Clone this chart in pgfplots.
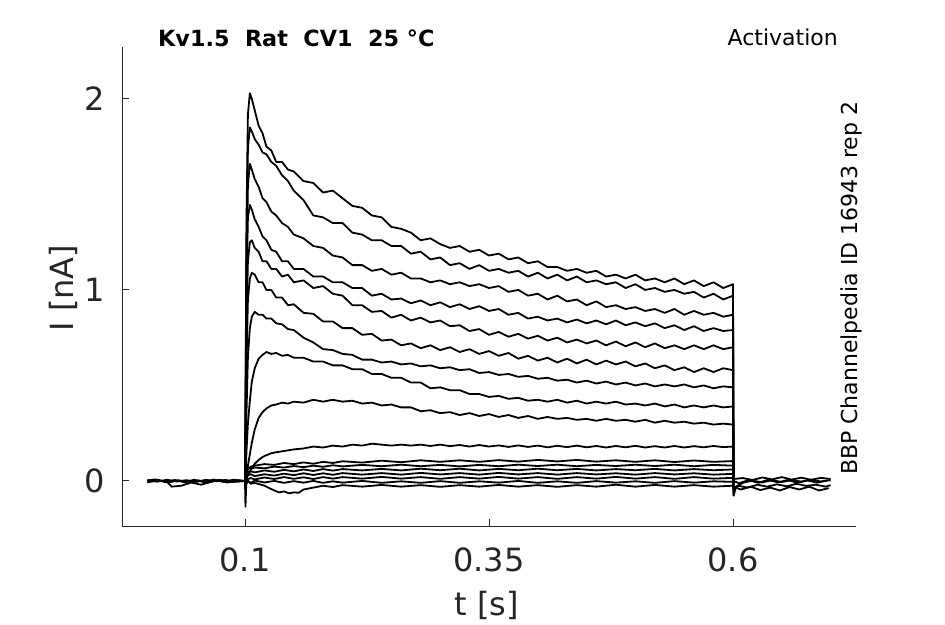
\documentclass[border=0pt]{standalone}
\usepackage{fontspec}
\setmainfont{DejaVu Sans}
\usepackage{pgfplots}
\pgfplotsset{compat=1.18}
\definecolor{axgray}{RGB}{38,38,38}
\begin{document}
\begin{tikzpicture}
\useasboundingbox (0,0) rectangle (945pt,624pt);
\begin{axis}[
  at={(122pt,98pt)}, anchor=south west,
  width=734pt, height=479pt, scale only axis,
  xmin=-0.026, xmax=0.726, ymin=-0.236, ymax=2.272,
  axis x line*=bottom, axis y line*=left,
  axis line style={draw=axgray, line width=0.9pt},
  xtick={0.1,0.35,0.6}, xticklabels={0.1,0.35,0.6},
  ytick={0,1,2}, yticklabels={0,1,2},
  tick align=inside, major tick length=7pt,
  tick style={draw=axgray, line width=0.9pt},
  /pgf/number format/assume math mode=true,
  xticklabel style={font=\fontsize{32}{38}\selectfont, text=axgray, inner sep=0pt, anchor=north, yshift=-22pt},
  yticklabel style={font=\fontsize{32}{38}\selectfont, text=axgray, inner sep=0pt, anchor=east, xshift=-17pt},
  every axis plot post/.append style={black, solid, line width=1.8pt, line join=round, mark=none},
]
% pre-pulse baselines
\addplot coordinates {(0,0.005)(0.01,-0.004)(0.02,0.006)(0.03,-0.003)(0.04,0.004)(0.05,-0.005)(0.06,0.006)(0.07,-0.002)(0.08,0.005)(0.09,-0.004)(0.1,0)};
\addplot coordinates {(0,-0.004)(0.01,0.006)(0.02,-0.005)(0.025,-0.03)(0.035,-0.025)(0.045,-0.008)(0.055,-0.02)(0.065,-0.004)(0.075,0.005)(0.085,-0.006)(0.1,0)};
\addplot coordinates {(0,0.002)(0.008,0.008)(0.018,-0.006)(0.028,0.005)(0.038,-0.007)(0.048,0.006)(0.058,-0.006)(0.068,0.007)(0.078,-0.005)(0.088,0.006)(0.1,0)};
\addplot coordinates {(0,-0.007)(0.012,0.003)(0.022,-0.008)(0.032,0.004)(0.042,-0.012)(0.052,0.003)(0.062,-0.009)(0.072,0.004)(0.082,-0.008)(0.092,0.004)(0.1,0)};
% T1
\addplot coordinates {(0.1,0)(0.1005,0.35)(0.1015,1.35)(0.103,1.92)(0.105,2.03)(0.107,2.00)(0.11,1.94)(0.114,1.86)(0.118,1.82)(0.122,1.75)(0.127,1.73)(0.132,1.67)(0.138,1.67)(0.144,1.63)(0.15,1.62)(0.16,1.57)(0.17,1.56)(0.18,1.51)(0.19,1.52)(0.20,1.48)(0.21,1.44)(0.22,1.43)(0.23,1.39)(0.24,1.38)(0.25,1.33)(0.26,1.32)(0.27,1.30)(0.28,1.26)(0.29,1.27)(0.30,1.24)(0.31,1.22)(0.32,1.23)(0.33,1.20)(0.34,1.21)(0.35,1.18)(0.36,1.19)(0.37,1.16)(0.38,1.17)(0.39,1.14)(0.40,1.15)(0.41,1.12)(0.42,1.12)(0.43,1.10)(0.44,1.11)(0.45,1.09)(0.46,1.10)(0.47,1.07)(0.48,1.08)(0.49,1.06)(0.50,1.08)(0.51,1.05)(0.52,1.06)(0.53,1.04)(0.54,1.06)(0.55,1.03)(0.56,1.05)(0.57,1.02)(0.58,1.04)(0.59,1.01)(0.60,1.03)(0.6005,-0.02)};
% T2
\addplot coordinates {(0.1,0)(0.1005,0.3)(0.1015,1.2)(0.103,1.74)(0.105,1.85)(0.107,1.83)(0.11,1.79)(0.114,1.76)(0.118,1.72)(0.122,1.71)(0.127,1.67)(0.132,1.65)(0.138,1.60)(0.144,1.57)(0.15,1.52)(0.16,1.47)(0.17,1.39)(0.18,1.38)(0.19,1.35)(0.20,1.35)(0.21,1.30)(0.22,1.29)(0.23,1.26)(0.24,1.26)(0.25,1.23)(0.26,1.23)(0.27,1.19)(0.28,1.20)(0.29,1.16)(0.30,1.17)(0.31,1.13)(0.32,1.14)(0.33,1.11)(0.34,1.13)(0.35,1.10)(0.36,1.11)(0.37,1.09)(0.38,1.10)(0.39,1.07)(0.40,1.09)(0.41,1.06)(0.42,1.08)(0.43,1.05)(0.44,1.07)(0.45,1.04)(0.46,1.05)(0.47,1.03)(0.48,1.04)(0.49,1.01)(0.50,1.03)(0.51,1.00)(0.52,1.01)(0.53,0.99)(0.54,1.00)(0.55,0.98)(0.56,0.99)(0.57,0.96)(0.58,0.98)(0.59,0.95)(0.60,0.97)(0.6005,-0.03)};
% T3
\addplot coordinates {(0.1,0)(0.1005,0.25)(0.1015,1.05)(0.103,1.55)(0.105,1.66)(0.107,1.63)(0.11,1.58)(0.114,1.54)(0.118,1.48)(0.122,1.46)(0.127,1.41)(0.132,1.39)(0.138,1.35)(0.144,1.33)(0.15,1.29)(0.16,1.27)(0.17,1.23)(0.18,1.22)(0.19,1.18)(0.20,1.17)(0.21,1.13)(0.22,1.13)(0.23,1.10)(0.24,1.11)(0.25,1.08)(0.26,1.09)(0.27,1.06)(0.28,1.06)(0.29,1.04)(0.30,1.05)(0.31,1.03)(0.32,1.04)(0.33,1.02)(0.34,1.03)(0.35,1.01)(0.36,1.02)(0.37,0.99)(0.38,1.00)(0.39,0.97)(0.40,0.98)(0.41,0.95)(0.42,0.97)(0.43,0.94)(0.44,0.95)(0.45,0.92)(0.46,0.94)(0.47,0.91)(0.48,0.92)(0.49,0.90)(0.50,0.91)(0.51,0.89)(0.52,0.90)(0.53,0.88)(0.54,0.90)(0.55,0.87)(0.56,0.89)(0.57,0.87)(0.58,0.88)(0.59,0.86)(0.60,0.87)(0.6005,-0.01)};
% T4
\addplot coordinates {(0.1,0)(0.1005,0.2)(0.1015,1.0)(0.103,1.38)(0.105,1.445)(0.107,1.42)(0.11,1.37)(0.114,1.33)(0.118,1.28)(0.122,1.26)(0.127,1.21)(0.132,1.20)(0.138,1.15)(0.144,1.15)(0.15,1.11)(0.16,1.11)(0.17,1.07)(0.18,1.07)(0.19,1.04)(0.20,1.04)(0.21,1.01)(0.22,1.01)(0.23,0.97)(0.24,0.98)(0.25,0.95)(0.26,0.955)(0.27,0.93)(0.28,0.945)(0.29,0.92)(0.30,0.935)(0.31,0.91)(0.32,0.925)(0.33,0.90)(0.34,0.915)(0.35,0.89)(0.36,0.90)(0.37,0.87)(0.38,0.88)(0.39,0.85)(0.40,0.86)(0.41,0.84)(0.42,0.85)(0.43,0.83)(0.44,0.845)(0.45,0.825)(0.46,0.84)(0.47,0.82)(0.48,0.84)(0.49,0.815)(0.50,0.83)(0.51,0.81)(0.52,0.825)(0.53,0.80)(0.54,0.815)(0.55,0.79)(0.56,0.81)(0.57,0.785)(0.58,0.80)(0.59,0.785)(0.60,0.79)(0.6005,-0.04)};
% T5
\addplot coordinates {(0.1,0)(0.1005,0.15)(0.1015,0.8)(0.103,1.15)(0.105,1.25)(0.107,1.26)(0.11,1.22)(0.114,1.20)(0.118,1.15)(0.122,1.15)(0.127,1.11)(0.132,1.11)(0.138,1.07)(0.144,1.08)(0.15,1.04)(0.16,1.05)(0.17,1.01)(0.18,1.02)(0.19,0.98)(0.20,0.97)(0.21,0.92)(0.22,0.92)(0.23,0.885)(0.24,0.89)(0.25,0.855)(0.26,0.87)(0.27,0.84)(0.28,0.855)(0.29,0.83)(0.30,0.84)(0.31,0.81)(0.32,0.815)(0.33,0.785)(0.34,0.795)(0.35,0.765)(0.36,0.78)(0.37,0.755)(0.38,0.77)(0.39,0.745)(0.40,0.76)(0.41,0.735)(0.42,0.75)(0.43,0.725)(0.44,0.74)(0.45,0.72)(0.46,0.735)(0.47,0.71)(0.48,0.73)(0.49,0.705)(0.50,0.725)(0.51,0.70)(0.52,0.72)(0.53,0.695)(0.54,0.71)(0.55,0.69)(0.56,0.71)(0.57,0.69)(0.58,0.71)(0.59,0.69)(0.60,0.70)(0.6005,-0.01)};
% T6
\addplot coordinates {(0.1,0)(0.1005,0.1)(0.1015,0.6)(0.103,0.95)(0.105,1.06)(0.107,1.09)(0.11,1.08)(0.114,1.04)(0.118,1.04)(0.122,1.00)(0.127,1.00)(0.132,0.96)(0.138,0.96)(0.144,0.92)(0.15,0.925)(0.16,0.88)(0.17,0.875)(0.18,0.835)(0.19,0.835)(0.20,0.80)(0.21,0.80)(0.22,0.765)(0.23,0.77)(0.24,0.735)(0.25,0.74)(0.26,0.71)(0.27,0.72)(0.28,0.695)(0.29,0.71)(0.30,0.685)(0.31,0.70)(0.32,0.675)(0.33,0.69)(0.34,0.665)(0.35,0.68)(0.36,0.655)(0.37,0.67)(0.38,0.64)(0.39,0.655)(0.40,0.63)(0.41,0.645)(0.42,0.62)(0.43,0.64)(0.44,0.615)(0.45,0.635)(0.46,0.61)(0.47,0.63)(0.48,0.61)(0.49,0.625)(0.50,0.60)(0.51,0.615)(0.52,0.59)(0.53,0.605)(0.54,0.58)(0.55,0.595)(0.56,0.57)(0.57,0.59)(0.58,0.57)(0.59,0.59)(0.60,0.58)(0.6005,-0.05)};
% T7
\addplot coordinates {(0.1,0)(0.1005,0.05)(0.1015,0.35)(0.103,0.65)(0.105,0.80)(0.107,0.86)(0.11,0.885)(0.114,0.87)(0.118,0.87)(0.122,0.85)(0.127,0.85)(0.132,0.825)(0.138,0.82)(0.144,0.795)(0.15,0.79)(0.16,0.75)(0.17,0.725)(0.18,0.69)(0.19,0.685)(0.20,0.665)(0.21,0.66)(0.22,0.635)(0.23,0.635)(0.24,0.62)(0.25,0.625)(0.26,0.61)(0.27,0.615)(0.28,0.60)(0.29,0.605)(0.30,0.59)(0.31,0.595)(0.32,0.58)(0.33,0.585)(0.34,0.565)(0.35,0.57)(0.36,0.555)(0.37,0.56)(0.38,0.545)(0.39,0.55)(0.40,0.535)(0.41,0.54)(0.42,0.525)(0.43,0.53)(0.44,0.515)(0.45,0.525)(0.46,0.51)(0.47,0.52)(0.48,0.505)(0.49,0.515)(0.50,0.50)(0.51,0.51)(0.52,0.495)(0.53,0.505)(0.54,0.495)(0.55,0.505)(0.56,0.49)(0.57,0.50)(0.58,0.485)(0.59,0.495)(0.60,0.49)(0.6005,-0.02)};
% T8
\addplot coordinates {(0.1,0)(0.1005,0.02)(0.1015,0.15)(0.103,0.3)(0.105,0.42)(0.107,0.52)(0.11,0.59)(0.114,0.64)(0.118,0.66)(0.122,0.675)(0.127,0.665)(0.132,0.67)(0.138,0.655)(0.144,0.66)(0.15,0.645)(0.16,0.645)(0.17,0.625)(0.18,0.625)(0.19,0.605)(0.20,0.605)(0.21,0.585)(0.22,0.585)(0.23,0.56)(0.24,0.56)(0.25,0.54)(0.26,0.54)(0.27,0.515)(0.28,0.515)(0.29,0.485)(0.30,0.49)(0.31,0.475)(0.32,0.475)(0.33,0.455)(0.34,0.455)(0.35,0.44)(0.36,0.445)(0.37,0.43)(0.38,0.435)(0.39,0.42)(0.40,0.425)(0.41,0.415)(0.42,0.425)(0.43,0.41)(0.44,0.42)(0.45,0.405)(0.46,0.415)(0.47,0.405)(0.48,0.415)(0.49,0.40)(0.50,0.405)(0.51,0.395)(0.52,0.405)(0.53,0.39)(0.54,0.40)(0.55,0.385)(0.56,0.395)(0.57,0.385)(0.58,0.395)(0.59,0.385)(0.60,0.39)(0.6005,-0.03)};
% T9
\addplot coordinates {(0.1,0)(0.1015,0.03)(0.103,0.08)(0.105,0.14)(0.107,0.2)(0.11,0.27)(0.114,0.33)(0.118,0.36)(0.122,0.38)(0.127,0.395)(0.132,0.40)(0.138,0.41)(0.144,0.405)(0.15,0.415)(0.16,0.41)(0.17,0.425)(0.18,0.415)(0.19,0.425)(0.20,0.415)(0.21,0.42)(0.22,0.405)(0.23,0.41)(0.24,0.395)(0.25,0.40)(0.26,0.385)(0.27,0.385)(0.28,0.365)(0.29,0.37)(0.30,0.355)(0.31,0.36)(0.32,0.345)(0.33,0.355)(0.34,0.34)(0.35,0.35)(0.36,0.335)(0.37,0.345)(0.38,0.33)(0.39,0.34)(0.40,0.325)(0.41,0.335)(0.42,0.325)(0.43,0.33)(0.44,0.32)(0.45,0.325)(0.46,0.315)(0.47,0.325)(0.48,0.315)(0.49,0.32)(0.50,0.31)(0.51,0.32)(0.52,0.305)(0.53,0.315)(0.54,0.305)(0.55,0.31)(0.56,0.30)(0.57,0.305)(0.58,0.295)(0.59,0.30)(0.60,0.295)(0.6005,-0.02)};
% T10
\addplot coordinates {(0.1,0)(0.1015,0.01)(0.103,0.03)(0.105,0.05)(0.11,0.09)(0.114,0.11)(0.118,0.125)(0.122,0.135)(0.127,0.145)(0.132,0.15)(0.138,0.155)(0.144,0.16)(0.15,0.165)(0.16,0.17)(0.17,0.18)(0.18,0.175)(0.19,0.185)(0.20,0.18)(0.21,0.19)(0.22,0.185)(0.23,0.195)(0.24,0.19)(0.25,0.185)(0.26,0.19)(0.27,0.185)(0.28,0.19)(0.29,0.183)(0.30,0.19)(0.31,0.182)(0.32,0.188)(0.33,0.18)(0.34,0.188)(0.35,0.18)(0.36,0.186)(0.37,0.178)(0.38,0.186)(0.39,0.178)(0.40,0.185)(0.41,0.176)(0.42,0.184)(0.43,0.177)(0.44,0.185)(0.45,0.176)(0.46,0.183)(0.47,0.175)(0.48,0.183)(0.49,0.176)(0.50,0.184)(0.51,0.175)(0.52,0.182)(0.53,0.175)(0.54,0.183)(0.55,0.175)(0.56,0.182)(0.57,0.176)(0.58,0.183)(0.59,0.177)(0.60,0.18)(0.6005,-0.01)};
% small traces
\addplot coordinates {(0.1,0)(0.101,0.03)(0.103,0.06)(0.106,0.075)(0.11,0.08)(0.12,0.088)(0.13,0.084)(0.14,0.094)(0.15,0.088)(0.16,0.097)(0.17,0.09)(0.18,0.1)(0.19,0.094)(0.20,0.103)(0.22,0.096)(0.24,0.106)(0.26,0.098)(0.28,0.108)(0.30,0.1)(0.32,0.108)(0.34,0.1)(0.36,0.109)(0.38,0.101)(0.40,0.11)(0.42,0.102)(0.44,0.11)(0.46,0.101)(0.48,0.108)(0.50,0.1)(0.52,0.108)(0.54,0.099)(0.56,0.107)(0.58,0.1)(0.60,0.104)(0.6005,0.005)};
\addplot coordinates {(0.1,0)(0.101,0.05)(0.103,0.07)(0.106,0.065)(0.11,0.07)(0.12,0.066)(0.13,0.075)(0.14,0.07)(0.15,0.078)(0.16,0.072)(0.17,0.08)(0.18,0.074)(0.19,0.082)(0.20,0.076)(0.22,0.084)(0.24,0.077)(0.26,0.085)(0.28,0.077)(0.30,0.084)(0.32,0.076)(0.34,0.084)(0.36,0.077)(0.38,0.085)(0.40,0.078)(0.42,0.085)(0.44,0.077)(0.46,0.084)(0.48,0.078)(0.50,0.085)(0.52,0.078)(0.54,0.085)(0.56,0.077)(0.58,0.084)(0.60,0.08)(0.6005,0)};
\addplot coordinates {(0.1,0)(0.101,0.06)(0.103,0.045)(0.106,0.05)(0.11,0.045)(0.12,0.055)(0.13,0.048)(0.14,0.058)(0.15,0.05)(0.16,0.06)(0.17,0.052)(0.18,0.062)(0.19,0.054)(0.20,0.062)(0.22,0.055)(0.24,0.063)(0.26,0.055)(0.28,0.064)(0.30,0.056)(0.32,0.064)(0.34,0.055)(0.36,0.063)(0.38,0.056)(0.40,0.064)(0.42,0.056)(0.44,0.063)(0.46,0.055)(0.48,0.062)(0.50,0.056)(0.52,0.063)(0.54,0.055)(0.56,0.062)(0.58,0.056)(0.60,0.06)(0.6005,-0.01)};
\addplot coordinates {(0.1,0)(0.101,0.04)(0.103,0.03)(0.106,0.035)(0.11,0.025)(0.12,0.035)(0.13,0.028)(0.14,0.038)(0.15,0.03)(0.16,0.04)(0.17,0.031)(0.18,0.04)(0.19,0.032)(0.20,0.041)(0.22,0.033)(0.24,0.041)(0.26,0.033)(0.28,0.042)(0.30,0.034)(0.32,0.041)(0.34,0.033)(0.36,0.042)(0.38,0.034)(0.40,0.041)(0.42,0.033)(0.44,0.041)(0.46,0.034)(0.48,0.04)(0.50,0.033)(0.52,0.041)(0.54,0.034)(0.56,0.04)(0.58,0.033)(0.60,0.037)(0.6005,-0.02)};
\addplot coordinates {(0.1,0)(0.101,0.02)(0.103,0.01)(0.106,0.015)(0.11,0.008)(0.12,0.018)(0.13,0.01)(0.14,0.02)(0.15,0.011)(0.16,0.019)(0.17,0.01)(0.18,0.02)(0.19,0.012)(0.20,0.02)(0.22,0.012)(0.24,0.021)(0.26,0.012)(0.28,0.02)(0.30,0.011)(0.32,0.02)(0.34,0.012)(0.36,0.021)(0.38,0.012)(0.40,0.02)(0.42,0.011)(0.44,0.02)(0.46,0.012)(0.48,0.021)(0.50,0.012)(0.52,0.02)(0.54,0.011)(0.56,0.02)(0.58,0.012)(0.60,0.016)(0.6005,-0.03)};
\addplot coordinates {(0.1,0)(0.101,-0.02)(0.103,0.0)(0.106,-0.01)(0.11,0.002)(0.12,-0.008)(0.13,0.0)(0.14,-0.01)(0.15,-0.001)(0.16,-0.009)(0.17,0.0)(0.18,-0.01)(0.19,-0.002)(0.20,-0.009)(0.22,0.0)(0.24,-0.01)(0.26,-0.002)(0.28,-0.01)(0.30,-0.001)(0.32,-0.01)(0.34,-0.002)(0.36,-0.009)(0.38,0.0)(0.40,-0.01)(0.42,-0.002)(0.44,-0.01)(0.46,-0.001)(0.48,-0.009)(0.50,-0.002)(0.52,-0.01)(0.54,-0.001)(0.56,-0.009)(0.58,-0.002)(0.60,-0.005)(0.6005,-0.04)};
\addplot coordinates {(0.1,0)(0.1005,-0.135)(0.101,-0.06)(0.1015,0.02)(0.103,0.0)(0.106,-0.015)(0.11,-0.01)(0.12,-0.025)(0.13,-0.05)(0.135,-0.06)(0.14,-0.055)(0.145,-0.065)(0.15,-0.06)(0.155,-0.062)(0.16,-0.045)(0.17,-0.035)(0.18,-0.025)(0.19,-0.032)(0.20,-0.022)(0.22,-0.03)(0.24,-0.021)(0.26,-0.03)(0.28,-0.022)(0.30,-0.031)(0.32,-0.022)(0.34,-0.03)(0.36,-0.021)(0.38,-0.03)(0.40,-0.022)(0.42,-0.031)(0.44,-0.022)(0.46,-0.03)(0.48,-0.02)(0.50,-0.03)(0.52,-0.021)(0.54,-0.03)(0.56,-0.022)(0.58,-0.03)(0.60,-0.025)(0.6005,-0.08)};
% post-pulse tails
\addplot coordinates {(0.6005,0.01)(0.61,0.015)(0.62,0.005)(0.63,0.018)(0.64,0.008)(0.65,0.02)(0.66,0.007)(0.67,0.017)(0.68,0.006)(0.69,0.016)(0.70,0.01)};
\addplot coordinates {(0.6005,-0.08)(0.603,-0.03)(0.61,-0.01)(0.62,0.002)(0.63,-0.008)(0.64,0.004)(0.65,-0.006)(0.66,0.005)(0.67,-0.004)(0.68,0.006)(0.69,-0.003)(0.70,0.004)};
\addplot coordinates {(0.6005,-0.05)(0.605,-0.025)(0.615,-0.035)(0.625,-0.02)(0.635,-0.03)(0.645,-0.018)(0.655,-0.028)(0.665,-0.015)(0.675,-0.026)(0.685,-0.02)(0.695,-0.03)(0.70,-0.022)};
\addplot coordinates {(0.6005,-0.03)(0.608,-0.045)(0.618,-0.03)(0.628,-0.048)(0.638,-0.035)(0.648,-0.05)(0.658,-0.032)(0.668,-0.045)(0.678,-0.03)(0.688,-0.05)(0.698,-0.038)};
\addplot coordinates {(0.6005,0.0)(0.606,-0.012)(0.616,0.004)(0.626,-0.01)(0.636,0.006)(0.646,-0.008)(0.656,0.005)(0.666,-0.01)(0.676,0.003)(0.686,-0.009)(0.696,0.002)};
\end{axis}
\node[anchor=base west, font=\bfseries\fontsize{22.3}{26}\selectfont, inner sep=0pt] at (158pt,577pt) {Kv1.5\ \ Rat\ \ CV1\ \ 25 °C};
\node[anchor=base east, font=\fontsize{22}{26}\selectfont, inner sep=0pt] at (838pt,578pt) {Activation};
\node[rotate=90, anchor=base west, font=\fontsize{22}{26}\selectfont, inner sep=0pt] at (857pt,149pt) {BBP Channelpedia ID 16943 rep 2};
\node[rotate=90, anchor=base, font=\fontsize{32}{38}\selectfont, text=axgray, inner sep=0pt] at (73pt,336pt) {I [nA]};
\node[anchor=base, font=\fontsize{32}{38}\selectfont, text=axgray, inner sep=0pt] at (487pt,9pt) {t [s]};
\end{tikzpicture}
\end{document}
